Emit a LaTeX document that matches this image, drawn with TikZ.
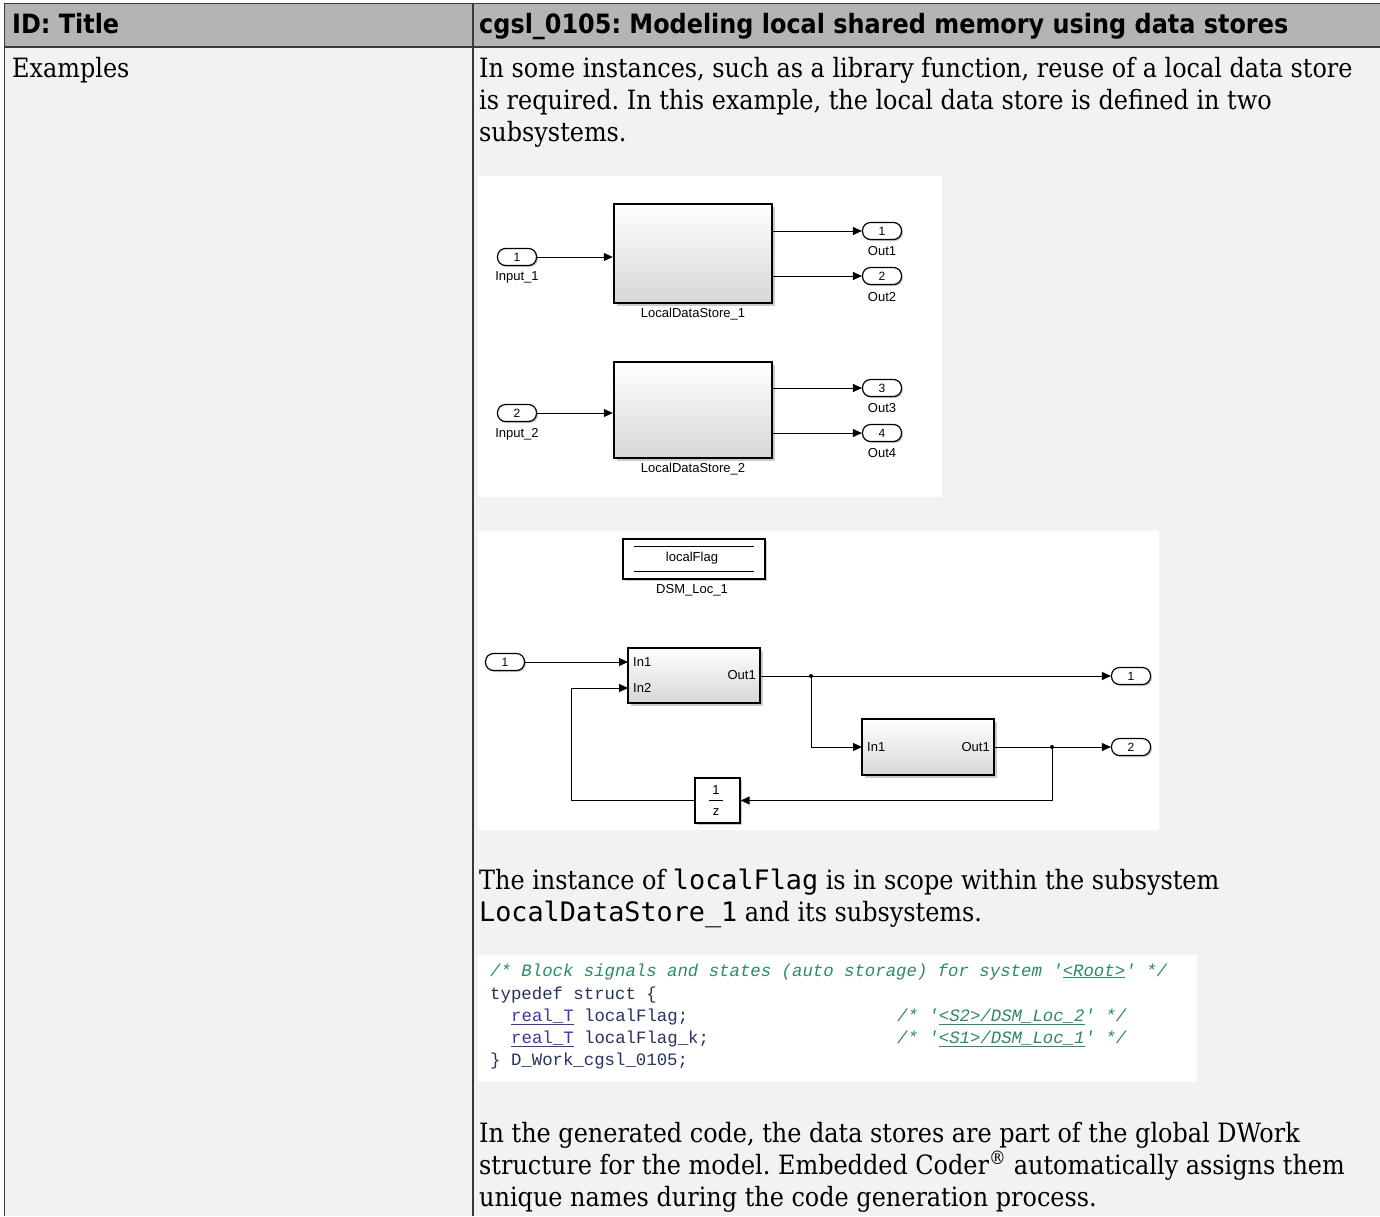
\documentclass[tikz,border=0pt]{standalone}
\usepackage{fontspec}
\setmainfont{DejaVu Serif Condensed}
\newfontfamily\hdrfont{DejaVu Sans Condensed}
\newfontfamily\slfont{Liberation Sans}
\newfontfamily\codefont{Liberation Mono}
\newfontfamily\txmono{DejaVu Sans Mono}
\usetikzlibrary{arrows.meta,shadows}
\definecolor{hdrgray}{HTML}{B4B4B4}
\definecolor{bodygray}{HTML}{F2F2F2}
\definecolor{rule}{HTML}{3A3A3A}
\definecolor{cmtgreen}{HTML}{2E8A62}
\definecolor{codeblue}{HTML}{26335E}
\definecolor{linkblue}{HTML}{3838A8}
\frenchspacing
\tikzset{
  hdr/.style={anchor=base west, inner sep=0pt, font=\hdrfont\bfseries\fontsize{26.6}{30}\selectfont},
  para/.style={anchor=base west, inner sep=0pt, font=\fontsize{26.6}{32}\selectfont},
  code/.style={anchor=base west, inner sep=0pt, font=\codefont\fontsize{17.35}{20}\selectfont, text=codeblue},
  cmt/.style={anchor=base west, inner sep=0pt, font=\codefont\itshape\fontsize{17.35}{20}\selectfont, text=cmtgreen},
  port/.style={draw, line width=1.2pt, fill=white, rounded corners=8pt, minimum width=39pt, minimum height=17pt, inner sep=0pt, font=\slfont\fontsize{12}{12}\selectfont, drop shadow={shadow xshift=1.5pt, shadow yshift=-1.5pt, fill=black!35, opacity=0.6}},
  slab/.style={inner sep=0pt, font=\slfont\fontsize{13}{14}\selectfont},
  blk/.style={draw, line width=2.4pt, top color=white, bottom color=black!16, inner sep=0pt, drop shadow={shadow xshift=2.5pt, shadow yshift=-2.5pt, fill=black!40, opacity=0.5}},
  sig/.style={line width=1pt, -{Triangle[length=9pt,width=8pt]}},
  dot/.style={circle, fill=black, inner sep=0pt, minimum size=4pt},
  panel/.style={fill=white, draw=none},
}
\newcommand{\mymono}[1]{{\txmono\fontsize{26.8}{32}\selectfont #1}}
\begin{document}
\begin{tikzpicture}[x=1pt, y=-1pt]
\useasboundingbox (0,0) rectangle (1380,1216);
% table
\fill[white] (0,0) rectangle (1380,1216);
\fill[hdrgray] (5,4) rectangle (1380,47);
\fill[bodygray] (5,47) rectangle (1380,1216);
\draw[rule, line width=1.6pt] (1380,3.5) -- (4.5,3.5) -- (4.5,1216);
\draw[rule, line width=1.4pt] (4.5,47) -- (1380,47);
\draw[rule, line width=1.4pt] (473,3.5) -- (473,1216);
\node[hdr] (h1) at (12,33) {ID: Title};
\node[hdr] (h2) at (479,33) {cgsl\_0105: Modeling local shared memory using data stores};
\node[para] (ex) at (12,77) {Examples};
\node[para] (p1a) at (479,77) {In some instances, such as a library function, reuse of a local data store};
\node[para] (p1b) at (479,109) {is required. In this example, the local data store is defined in two};
\node[para] (p1c) at (479,141) {subsystems.};

% ---------- diagram 1 ----------
\fill[panel] (478,176) rectangle (942,497);
\node[blk, minimum width=158pt, minimum height=99pt] (b1) at (693,253.5) {};
\node[slab] (b1l) at (693,314) {LocalDataStore\_1};
\node[port] (i1) at (517,257) {1};
\node[slab] (i1l) at (517,277) {Input\_1};
\node[port] (o1) at (882,231) {1};
\node[slab] (o1l) at (882,251) {Out1};
\node[port] (o2) at (882,276) {2};
\node[slab] (o2l) at (882,297) {Out2};
\draw[sig] (i1.east) -- (i1.east -| b1.west);
\draw[sig] (o1.west -| b1.east) -- (o1.west);
\draw[sig] (o2.west -| b1.east) -- (o2.west);

\node[blk, minimum width=158pt, minimum height=96pt] (b2) at (693,410) {};
\node[slab] (b2l) at (693,469) {LocalDataStore\_2};
\node[port] (i2) at (517,413) {2};
\node[slab] (i2l) at (517,434) {Input\_2};
\node[port] (o3) at (882,388) {3};
\node[slab] (o3l) at (882,408) {Out3};
\node[port] (o4) at (882,433) {4};
\node[slab] (o4l) at (882,453) {Out4};
\draw[sig] (i2.east) -- (i2.east -| b2.west);
\draw[sig] (o3.west -| b2.east) -- (o3.west);
\draw[sig] (o4.west -| b2.east) -- (o4.west);

% ---------- diagram 2 ----------
\fill[panel] (478,531) rectangle (1159,830);
\node[draw, line width=1.6pt, fill=white, minimum width=142pt, minimum height=40pt, inner sep=0pt, drop shadow={shadow xshift=2pt, shadow yshift=-2pt, fill=black!40, opacity=0.5}] (dsm) at (694,559) {};
\draw[line width=1pt] ([xshift=12pt,yshift=-8pt]dsm.north west) -- ([xshift=-12pt,yshift=-8pt]dsm.north east);
\draw[line width=1pt] ([xshift=12pt,yshift=8pt]dsm.south west) -- ([xshift=-12pt,yshift=8pt]dsm.south east);
\node[slab] (dsmt) at (692,558) {localFlag};
\node[slab] (dsml) at (692,590) {DSM\_Loc\_1};

\node[port] (pin) at (505,662) {1};
\node[blk, minimum width=132pt, minimum height=55pt] (s1) at (694,675.5) {};
\node[slab, anchor=west] (s1i1) at (633,662) {In1};
\node[slab, anchor=west] (s1i2) at (633,688) {In2};
\node[slab, anchor=east] (s1o) at (756,675) {Out1};
\node[port] (po1) at (1131,676) {1};
\node[blk, minimum width=132pt, minimum height=56pt] (s2) at (928,747) {};
\node[slab, anchor=west] (s2i) at (867,747) {In1};
\node[slab, anchor=east] (s2o) at (990,747) {Out1};
\node[port] (po2) at (1131,747) {2};
\node[draw, line width=1.3pt, fill=white, minimum width=45pt, minimum height=45pt, inner sep=0pt, drop shadow={shadow xshift=2pt, shadow yshift=-2pt, fill=black!40, opacity=0.5}] (dl) at (717.5,800.5) {};
\node[slab] (dln) at (716,790) {1};
\draw[line width=0.9pt] (709,800) -- (723,800);
\node[slab] (dld) at (716,812) {z};

\coordinate (s1in1) at (628,662);
\coordinate (s1in2) at (628,688);
\coordinate (s1out) at (760,676);
\coordinate (s2in) at (862,747);
\coordinate (s2out) at (994,747);
\node[dot] (d1) at (811,676) {};
\node[dot] (d2) at (1052,747) {};
\coordinate (fb) at (571,800.5);

\draw[sig] (pin.east) -- (s1in1);
\draw[sig] (s1out) -- (po1.west);
\draw[sig] (d1.center) |- (s2in);
\draw[sig] (s2out) -- (po2.west);
\draw[sig] (d2.center) |- (dl.east);
\draw[sig] (dl.west) -- (fb) |- (s1in2);

\node[para] (p2a) at (479,889) {The instance of \mymono{localFlag} is in scope within the subsystem};
\node[para] (p2b) at (479,921) {\mymono{LocalDataStore\_1} and its subsystems.};

% ---------- code ----------
\fill[panel] (478,955) rectangle (1197,1082);
\node[cmt] (c1) at (490,976) {/* Block signals and states (auto storage) for system '\underline{<Root>}' */};
\node[code] (c2) at (490,999) {typedef struct \{};
\node[code] (c3) at (511,1021) {\textcolor{linkblue}{\underline{real\_T}} localFlag;};
\node[cmt] (c3c) at (897,1021) {/* '\underline{<S2>/DSM\_Loc\_2}' */};
\node[code] (c4) at (511,1043) {\textcolor{linkblue}{\underline{real\_T}} localFlag\_k;};
\node[cmt] (c4c) at (897,1043) {/* '\underline{<S1>/DSM\_Loc\_1}' */};
\node[code] (c5) at (490,1065) {\} D\_Work\_cgsl\_0105;};

\node[para] (p3a) at (479,1142) {In the generated code, the data stores are part of the global DWork};
\node[para] (p3b) at (479,1174) {structure for the model. Embedded Coder\textsuperscript{\textregistered} automatically assigns them};
\node[para] (p3c) at (479,1206) {unique names during the code generation process.};
\end{tikzpicture}
\end{document}
